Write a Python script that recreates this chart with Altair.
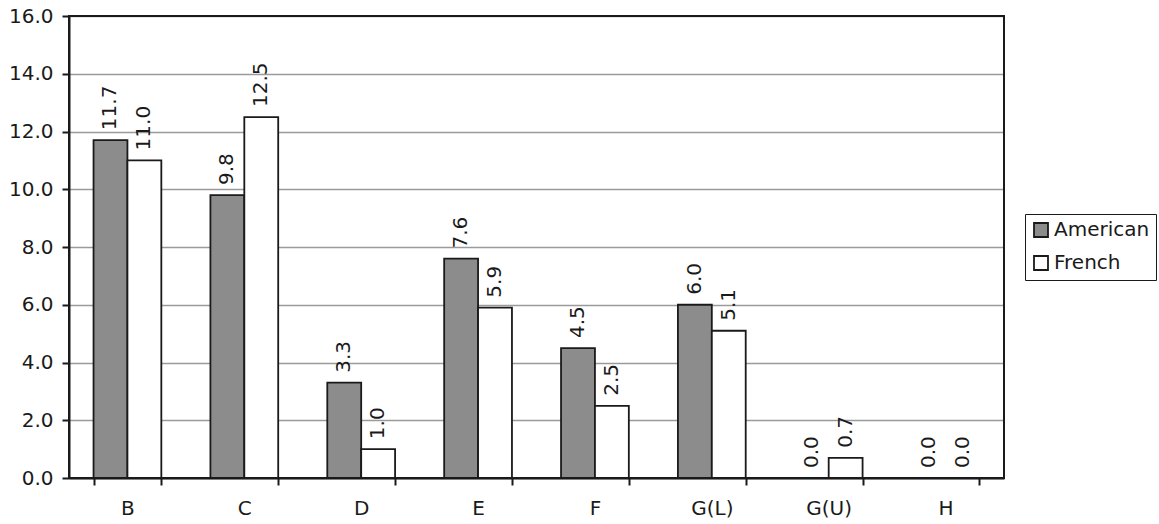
import altair as alt
import pandas as pd

# Scores per category for the two groups
categories = ["B", "C", "D", "E", "F", "G(L)", "G(U)", "H"]
american = [11.7, 9.8, 3.3, 7.6, 4.5, 6.0, 0.0, 0.0]
french = [11.0, 12.5, 1.0, 5.9, 2.5, 5.1, 0.7, 0.0]
series = ["American", "French"]
y_ticks = [0, 2, 4, 6, 8, 10, 12, 14, 16]

rows = []
for cat, a, f in zip(categories, american, french):
    rows.append({"category": cat, "series": "American", "value": a})
    rows.append({"category": cat, "series": "French", "value": f})
df = pd.DataFrame(rows)

FONT = "DejaVu Sans"
INK = "#1a1a1a"
FS = 20
W, H = 935, 462

x_enc = alt.X(
    "category:N",
    sort=categories,
    scale=alt.Scale(paddingInner=0.42, paddingOuter=0.21),
    axis=alt.Axis(
        title=None,
        labelAngle=0,
        labelFontSize=FS,
        labelFont=FONT,
        labelColor=INK,
        labelPadding=13,
        tickBand="extent",
        tickSize=7,
        tickColor=INK,
        tickWidth=2,
        domainColor=INK,
        domainWidth=2,
        grid=False,
    ),
)
xo_enc = alt.XOffset("series:N", sort=series)
y_enc = alt.Y(
    "value:Q",
    scale=alt.Scale(domain=[0, 16], nice=False),
    axis=alt.Axis(
        title=None,
        values=y_ticks,
        format=".1f",
        labelFontSize=FS,
        labelFont=FONT,
        labelColor=INK,
        labelPadding=9,
        tickSize=7,
        tickColor=INK,
        tickWidth=2,
        domainColor=INK,
        domainWidth=2,
        grid=True,
        gridColor="#9a9a9a",
        gridWidth=1.5,
    ),
)

bars = alt.Chart(df).mark_bar(stroke=INK, strokeWidth=1.8).encode(
    x=x_enc,
    xOffset=xo_enc,
    y=y_enc,
    color=alt.Color(
        "series:N",
        sort=series,
        scale=alt.Scale(domain=series, range=["#8c8c8c", "#ffffff"]),
        legend=alt.Legend(
            title=None,
            orient="none",
            legendX=956,
            legendY=198,
            strokeColor=INK,
            fillColor="white",
            padding=6,
            rowPadding=11,
            symbolType="square",
            symbolSize=196,
            symbolStrokeColor=INK,
            symbolStrokeWidth=1.8,
            labelFontSize=FS,
            labelFont=FONT,
            labelColor=INK,
            labelOffset=3,
        ),
    ),
)

labels = alt.Chart(df).mark_text(
    angle=270,
    align="left",
    baseline="middle",
    dx=10,
    fontSize=FS,
    font=FONT,
    color=INK,
).encode(
    x=alt.X("category:N", sort=categories),
    xOffset=xo_enc,
    y=alt.Y("value:Q"),
    text=alt.Text("value:Q", format=".1f"),
)

# Plot-area frame (top and right edges)
frame = alt.Chart(pd.DataFrame({"k": [0]})).mark_rect(
    fill=None, stroke=INK, strokeWidth=2
).encode(
    x=alt.value(0), x2=alt.value(W), y=alt.value(0), y2=alt.value(H)
)

chart = (
    alt.layer(bars, labels, frame)
    .properties(
        width=W,
        height=H,
        autosize=alt.AutoSizeParams(type="none"),
        padding={"left": 69, "top": 16, "right": 155, "bottom": 46},
    )
    .configure_view(stroke=None)
    .configure(background="white")
)

chart.save("out.html", embed_options={"renderer": "svg", "actions": False})
